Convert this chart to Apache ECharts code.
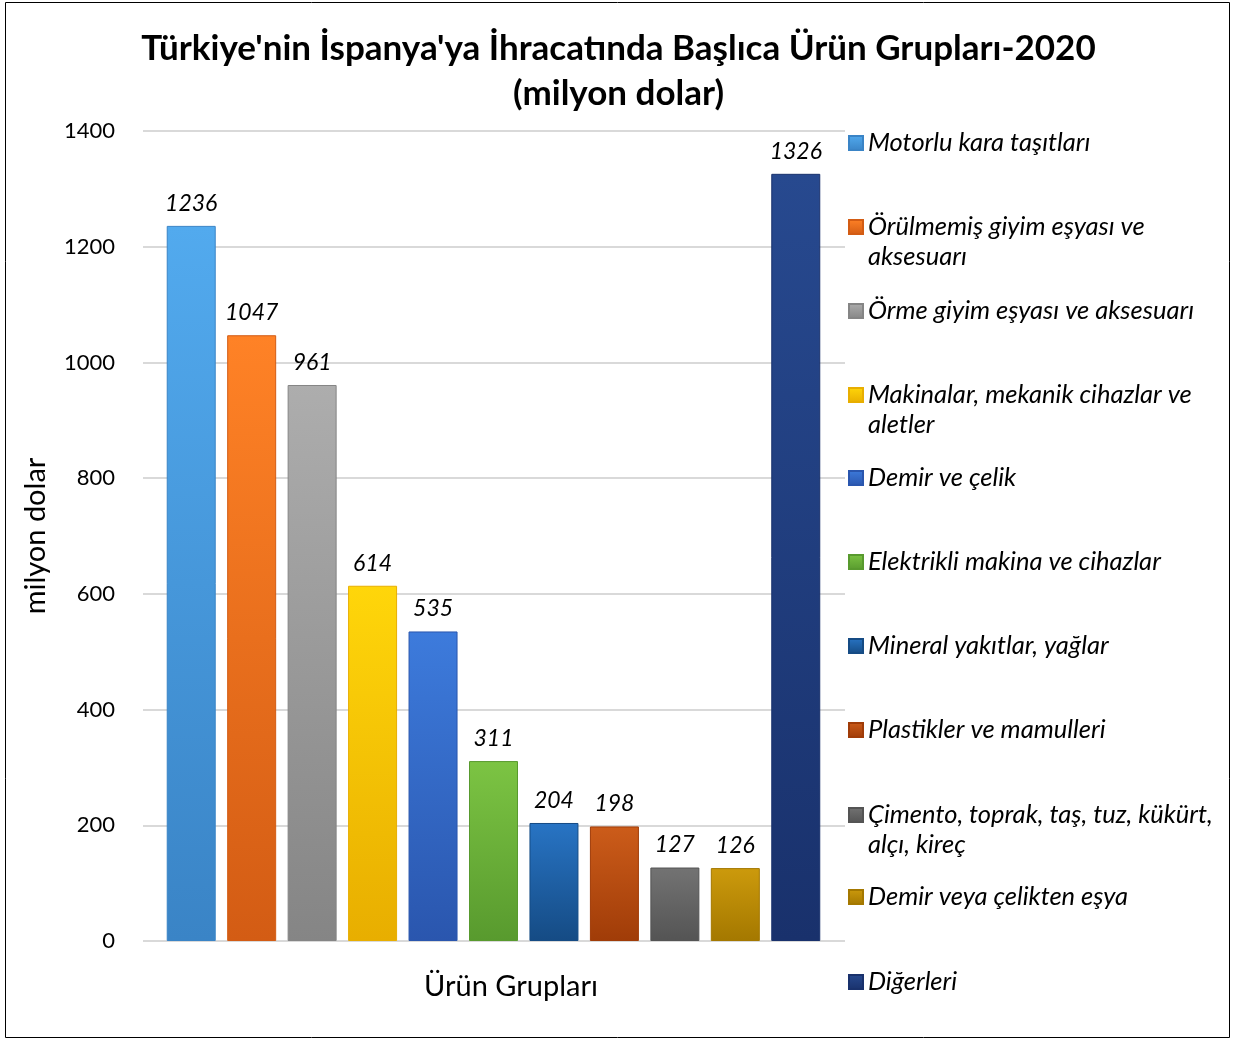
<!DOCTYPE html>
<html>
<head>
<meta charset="utf-8">
<script src="https://cdn.jsdelivr.net/npm/echarts@6/dist/echarts.min.js"></script>
<style>
html, body { margin: 0; padding: 0; background: #fff; }
#chart { width: 1237px; height: 1041px; }
</style>
</head>
<body>
<div id="chart"></div>
<script>
// data
var categories = [
    'Motorlu kara taşıtları',
    'Örülmemiş giyim eşyası ve\naksesuarı',
    'Örme giyim eşyası ve aksesuarı',
    'Makinalar, mekanik cihazlar ve\naletler',
    'Demir ve çelik',
    'Elektrikli makina ve cihazlar',
    'Mineral yakıtlar, yağlar',
    'Plastikler ve mamulleri',
    'Çimento, toprak, taş, tuz, kükürt,\nalçı, kireç',
    'Demir veya çelikten eşya',
    'Diğerleri'
];
var values = [1236, 1047, 961, 614, 535, 311, 204, 198, 127, 126, 1326];
var topColors    = ['#52aaee', '#ff8226', '#adadad', '#ffd60a', '#3d7bdc', '#7cc443', '#2874c4', '#cc5c1a', '#737373', '#cc9a0c', '#27498f'];
var bottomColors = ['#3a84c6', '#d35c14', '#858585', '#e8ae00', '#2a56ae', '#589a2e', '#154b84', '#a03c08', '#545454', '#a47800', '#19316c'];

// layout
var FONT = 'Lato';
var legendY = [143, 227, 311, 395, 478, 562, 646, 730, 815, 897, 982];

var chart = echarts.init(document.getElementById('chart'));

var series = categories.map(function (name, i) {
    return {
        name: name,
        type: 'bar',
        xAxisIndex: 1,
        yAxisIndex: 1,
        barWidth: 49,
        barGap: '-100%',
        data: values.map(function (v, j) { return j === i ? v : '-'; }),
        itemStyle: {
            color: new echarts.graphic.LinearGradient(0, 0, 0, 1, [
                { offset: 0, color: topColors[i] },
                { offset: 1, color: bottomColors[i] }
            ]),
            borderColor: bottomColors[i],
            borderWidth: 1
        },
        label: {
            show: true,
            position: 'top',
            distance: 11,
            fontFamily: FONT,
            fontStyle: 'italic',
            fontSize: 23,
            color: '#000'
        }
    };
});

// one legend per item so the spacing stays even; two-line names get an
// empty first line so the marker sits beside the first text line
var legends = categories.map(function (name, i) {
    var two = name.indexOf('\n') >= 0;
    return {
        data: [name],
        orient: 'vertical',
        left: 848,
        top: legendY[i] - (two ? 45 : 15),
        padding: 0,
        itemWidth: 14,
        itemHeight: 14,
        icon: 'rect',
        formatter: function (n) { return two ? '\n' + n : n; },
        textStyle: {
            fontFamily: FONT,
            fontStyle: 'italic',
            fontSize: 25.5,
            color: '#000',
            lineHeight: 30
        }
    };
});

chart.setOption({
    animation: false,
    title: {
        text: "Türkiye'nin İspanya'ya İhracatında Başlıca Ürün Grupları-2020\n(milyon dolar)",
        left: 'center',
        top: 21,
        textStyle: {
            fontFamily: FONT,
            fontWeight: 'bold',
            fontSize: 35,
            lineHeight: 45,
            color: '#000'
        }
    },
    graphic: [{
        type: 'rect',
        shape: { x: 5.5, y: 2.5, width: 1224, height: 1035 },
        style: { fill: 'none', stroke: '#000', lineWidth: 1 }
    }],
    legend: legends,
    grid: [
        { left: 143, top: 131, width: 702, height: 810 },
        { left: 161, top: 131, width: 665, height: 810 }
    ],
    xAxis: [
        { gridIndex: 0, type: 'category', data: categories, show: false },
        {
            gridIndex: 1,
            type: 'category',
            data: categories,
            axisLine: { show: false },
            axisTick: { show: false },
            axisLabel: { show: false },
            name: 'Ürün Grupları',
            nameLocation: 'middle',
            nameGap: 31,
            nameTextStyle: {
                fontFamily: FONT,
                fontSize: 29,
                color: '#000',
                padding: [0, 0, 0, 35]
            }
        }
    ],
    yAxis: [
        {
            gridIndex: 0,
            type: 'value',
            min: 0,
            max: 1400,
            interval: 200,
            axisLine: { show: false },
            axisTick: { show: false },
            axisLabel: {
                fontFamily: FONT,
                fontSize: 22,
                color: '#000',
                margin: 28,
                formatter: function (v) { return String(v); }
            },
            splitLine: { lineStyle: { color: '#d9d9d9', width: 2 } },
            name: 'milyon dolar',
            nameLocation: 'middle',
            nameGap: 93,
            nameTextStyle: { fontFamily: FONT, fontSize: 29, color: '#000' }
        },
        { gridIndex: 1, type: 'value', min: 0, max: 1400, interval: 200, show: false }
    ],
    series: series
});
</script>
</body>
</html>
